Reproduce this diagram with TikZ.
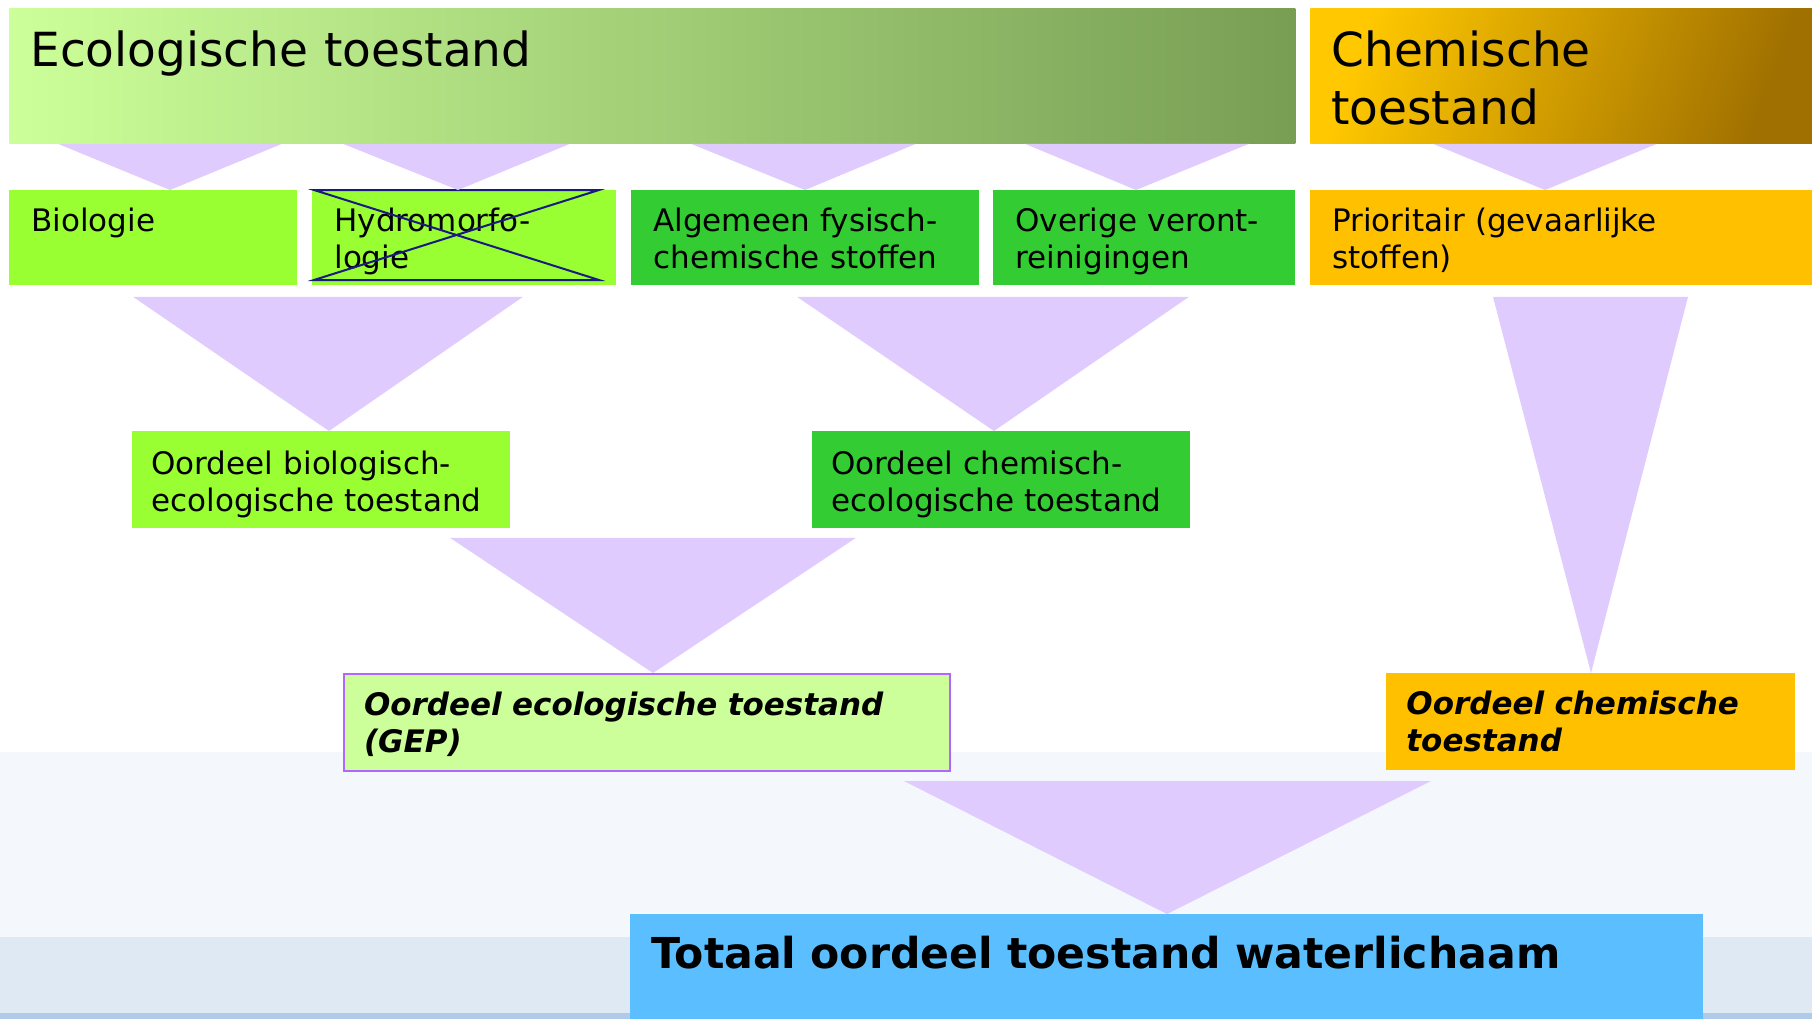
\documentclass[tikz,border=0pt]{standalone}
\usepackage{fontspec}
\setmainfont{DejaVu Sans}
\usetikzlibrary{calc}
\definecolor{lila}{HTML}{E0CBFE}
\definecolor{ecoL}{HTML}{CCFF99}
\definecolor{ecoM}{HTML}{B0E080}
\definecolor{ecoR}{HTML}{789E54}
\definecolor{chemL}{HTML}{FFC800}
\definecolor{chemR}{HTML}{A07000}
\definecolor{lime}{HTML}{99FF33}
\definecolor{grass}{HTML}{33CC33}
\definecolor{amber}{HTML}{FFC000}
\definecolor{pale}{HTML}{CCFF99}
\definecolor{gepedge}{HTML}{B366FF}
\definecolor{sky}{HTML}{5BBFFF}
\definecolor{crossblue}{HTML}{1A1A80}
\definecolor{bandA}{HTML}{F4F7FC}
\definecolor{bandB}{HTML}{DFE9F4}
\definecolor{bandC}{HTML}{B0CBEA}

\begin{document}
\begin{tikzpicture}[
    x=0.5pt, y=-0.5pt,
    header/.style={anchor=north west, align=left, inner xsep=10.5pt, inner ysep=11pt,
        text height=18pt, text depth=27.5pt, font=\fontsize{23.5}{29}\selectfont},
    rowtwo/.style={anchor=north west, align=left, inner xsep=11pt, inner ysep=8.5pt,
        text height=12pt, text depth=18.5pt, font=\fontsize{15.5}{18.5}\selectfont},
    rowthree/.style={anchor=north west, align=left, inner xsep=9.5pt, inner ysep=9.5pt,
        text height=12pt, text depth=17.5pt, font=\fontsize{15.5}{18.5}\selectfont},
    verdict/.style={anchor=north west, align=left, inner xsep=10pt, inner ysep=8.5pt,
        text height=12pt, text depth=19.5pt, font=\fontsize{15.5}{18.5}\selectfont\bfseries\itshape},
    total/.style={anchor=north west, align=left, inner xsep=10.5pt, inner ysep=11pt,
        text height=16pt, text depth=14.5pt, font=\fontsize{21.3}{25}\selectfont\bfseries},
    tri/.style={fill=lila},
    cross/.style={draw=crossblue, line width=1pt}
]
\useasboundingbox (0,0) rectangle (1812,1019);

% Background bands
\fill[bandA] (0,752) rectangle (1812,937);
\fill[bandB] (0,937) rectangle (1812,1013);
\fill[bandC] (0,1013) rectangle (1812,1019);

% Headers
\node[header, left color=ecoL, middle color=ecoM, right color=ecoR, text width=622pt] (eco) at (9,8) {Ecologische toestand};
\node[header, left color=chemL, right color=chemR, shading angle=70, text width=230pt] (chemhd) at (1310,8) {Chemische\\toestand};

% Quality elements
\node[rowtwo, fill=lime, text width=122pt] (bio) at (9,190) {Biologie};
\node[rowtwo, fill=lime, text width=130pt] (hydro) at (312,190) {Hydromorfo-\\logie};
\node[rowtwo, fill=grass, text width=152pt] (alg) at (631,190) {Algemeen fysisch-\\chemische stoffen};
\node[rowtwo, fill=grass, text width=129pt] (over) at (993,190) {Overige veront-\\reinigingen};
\node[rowtwo, fill=amber, text width=229pt] (prio) at (1310,190) {Prioritair (gevaarlijke\\stoffen)};

% Crossed out
\draw[cross] ($(hydro.north west)+(2,0)$) -- ($(hydro.north west)+(287,0)$)
    -- ($(hydro.north west)+(2,90)$) -- ($(hydro.north west)+(287,90)$) -- cycle;

% Partial verdicts
\node[rowthree, fill=lime, text width=170pt] (obio) at (132,431) {Oordeel biologisch-\\ecologische toestand};
\node[rowthree, fill=grass, text width=170pt] (ochem) at (812,431) {Oordeel chemisch-\\ecologische toestand};

% Verdicts
\node[verdict, fill=pale, draw=gepedge, line width=1pt, text width=283pt] (gep) at (343,673) {Oordeel ecologische toestand\\(GEP)};
\node[verdict, fill=amber, text width=184.5pt] (ochemt) at (1386,673) {Oordeel chemische\\toestand};

% Total
\node[total, fill=sky, text width=515.5pt] (tot) at (630,914) {Totaal oordeel toestand waterlichaam};

% Gaps below the boxes
\coordinate (r2) at ([yshift=-5.5pt]bio.south);
\coordinate (r3) at ([yshift=-4.5pt]obio.south);
\coordinate (r4) at ([yshift=-4.5pt]gep.south);

% Funnels, row 1
\fill[tri] (58,0 |- eco.south) -- (282,0 |- eco.south) -- (170,0 |- bio.north) -- cycle;
\fill[tri] (343,0 |- eco.south) -- (570,0 |- eco.south) -- (458,0 |- hydro.north) -- cycle;
\fill[tri] (691,0 |- eco.south) -- (916,0 |- eco.south) -- (805,0 |- alg.north) -- cycle;
\fill[tri] (1025,0 |- eco.south) -- (1249,0 |- eco.south) -- (1136,0 |- over.north) -- cycle;
\fill[tri] (1433,0 |- chemhd.south) -- (1657,0 |- chemhd.south) -- (1545,0 |- prio.north) -- cycle;

% Funnels, row 2
\fill[tri] (133,0 |- r2) -- (523,0 |- r2) -- (329,0 |- obio.north) -- cycle;
\fill[tri] (797,0 |- r2) -- (1189,0 |- r2) -- (994,0 |- ochem.north) -- cycle;
\fill[tri] (1493,0 |- r2) -- (1688,0 |- r2) -- (1591,0 |- ochemt.north) -- cycle;

% Funnels, rows 3 and 4
\fill[tri] (450,0 |- r3) -- (856,0 |- r3) -- (653,0 |- gep.north) -- cycle;
\fill[tri] (904,0 |- r4) -- (1431,0 |- r4) -- (1167,0 |- tot.north) -- cycle;

\end{tikzpicture}
\end{document}
